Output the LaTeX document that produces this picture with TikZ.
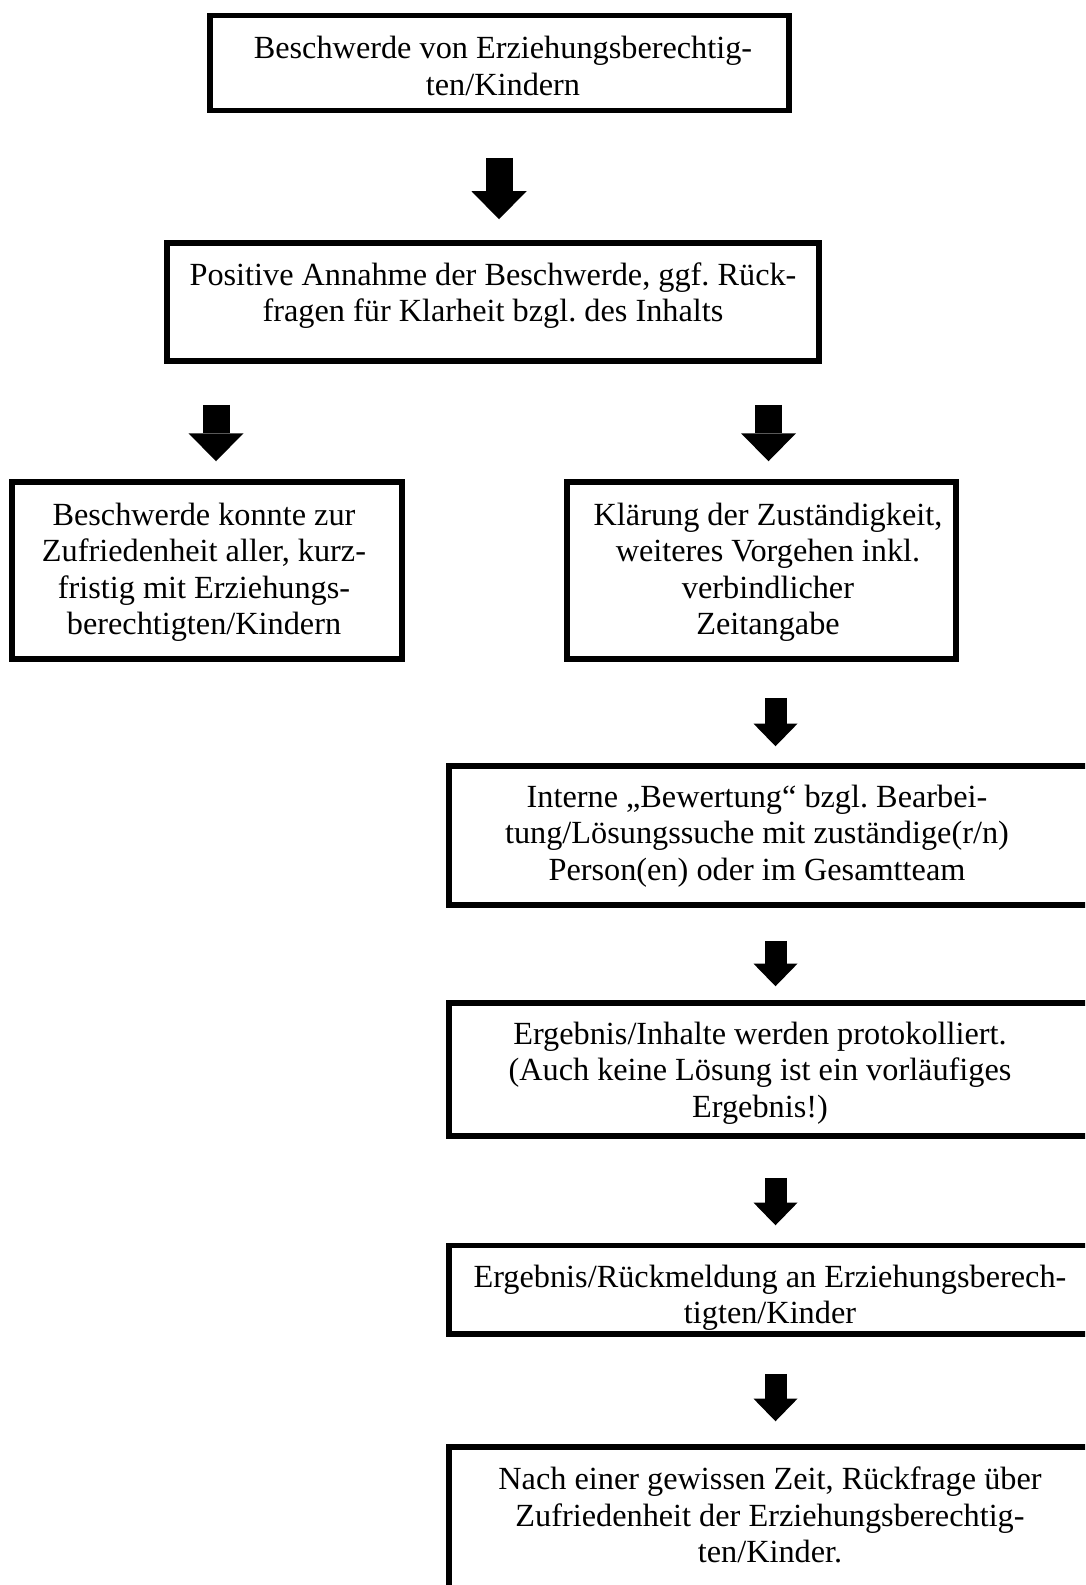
\documentclass[tikz,border=0pt]{standalone}
\usepackage{fontspec}
\setmainfont{Liberation Serif}
\usetikzlibrary{arrows.meta}

\tikzset{
  flowbox/.style={draw, line width=5.5bp, inner sep=0pt},
  flowtext/.style={anchor=base, inner sep=0pt, font=\fontsize{32.4}{36.7}\selectfont},
  bigarrow/.style={line width=27bp, -{Triangle[width=55bp, length=28bp, line width=0pt]}},
  smallarrow/.style={line width=22bp, -{Triangle[width=44bp, length=22.6bp, line width=0pt]}},
}
\newcommand{\flowlines}[1]{\parbox[t]{700bp}{\centering\frenchspacing #1}}

\begin{document}
\begin{tikzpicture}[x=1bp, y=-1bp]

\useasboundingbox (0,0) rectangle (1085,1585);
\clip (0,0) rectangle (1085,1585);

% columns of the arrows
\coordinate (c1) at (499,0);
\coordinate (c2) at (216,0);
\coordinate (c3) at (768.5,0);
\coordinate (c4) at (775.5,0);

% boxes
\node[flowbox, minimum width=579bp, minimum height=95bp] (b1) at (499.5,63) {};
\node[flowbox, minimum width=652bp, minimum height=118bp] (b2) at (493,302) {};
\node[flowbox, minimum width=390bp, minimum height=177bp] (b3l) at (207,570.5) {};
\node[flowbox, minimum width=389bp, minimum height=177bp] (b3r) at (761.5,570.5) {};
\node[flowbox, minimum width=661bp, minimum height=139bp] (b4) at (779.5,835.5) {};
\node[flowbox, minimum width=661bp, minimum height=133bp] (b5) at (779.5,1069.5) {};
\node[flowbox, minimum width=661bp, minimum height=88.5bp] (b6) at (779.5,1289.75) {};
\node[flowbox, minimum width=661bp, minimum height=173bp] (b7) at (779.5,1533.5) {};

% texts
\node[flowtext] (t1) at (503,58.6) {\flowlines{Beschwerde von Erziehungsberechtig-\\ten/Kindern}};
\node[flowtext] (t2) at (493,285) {\flowlines{Positive Annahme der Beschwerde, ggf. Rück-\\fragen für Klarheit bzgl. des Inhalts}};
\begin{scope}
  \clip (14.75,484.75) rectangle (399.25,656.25);
  \node[flowtext] (t3l) at (204,525) {\flowlines{Beschwerde konnte zur\\Zufriedenheit aller, kurz-\\fristig mit Erziehungs-\\berechtigten/Kindern}};
\end{scope}
\node[flowtext] (t3r) at (768,525) {\flowlines{Klärung der Zuständigkeit,\\weiteres Vorgehen inkl.\\verbindlicher\\Zeitangabe}};
\node[flowtext] (t4) at (757,807) {\flowlines{Interne „Bewertung“ bzgl. Bearbei-\\tung/Lösungssuche mit zuständige(r/n)\\Person(en) oder im Gesamtteam}};
\node[flowtext] (t5) at (760,1044) {\flowlines{Ergebnis/Inhalte werden protokolliert.\\(Auch keine Lösung ist ein vorläufiges\\Ergebnis!)}};
\node[flowtext] (t6) at (770,1287) {\flowlines{Ergebnis/Rückmeldung an Erziehungsberech-\\tigten/Kinder}};
\node[flowtext] (t7) at (770,1489.5) {\flowlines{Nach einer gewissen Zeit, Rückfrage über\\Zufriedenheit der Erziehungsberechtig-\\ten/Kinder.}};

% arrows
\draw[bigarrow, shorten <=44.5bp, shorten >=21bp] (b1.south -| c1) -- (b2.north -| c1);
\draw[bigarrow, shorten <=41bp, shorten >=18bp] (b2.south -| c2) -- (b3l.north -| c2);
\draw[bigarrow, shorten <=41bp, shorten >=18bp] (b2.south -| c3) -- (b3r.north -| c3);
\draw[smallarrow, shorten <=36bp, shorten >=17bp] (b3r.south -| c4) -- (b4.north -| c4);
\draw[smallarrow, shorten <=33bp, shorten >=14bp] (b4.south -| c4) -- (b5.north -| c4);
\draw[smallarrow, shorten <=39bp, shorten >=17.5bp] (b5.south -| c4) -- (b6.north -| c4);
\draw[smallarrow, shorten <=37bp, shorten >=23bp] (b6.south -| c4) -- (b7.north -| c4);

\end{tikzpicture}
\end{document}
